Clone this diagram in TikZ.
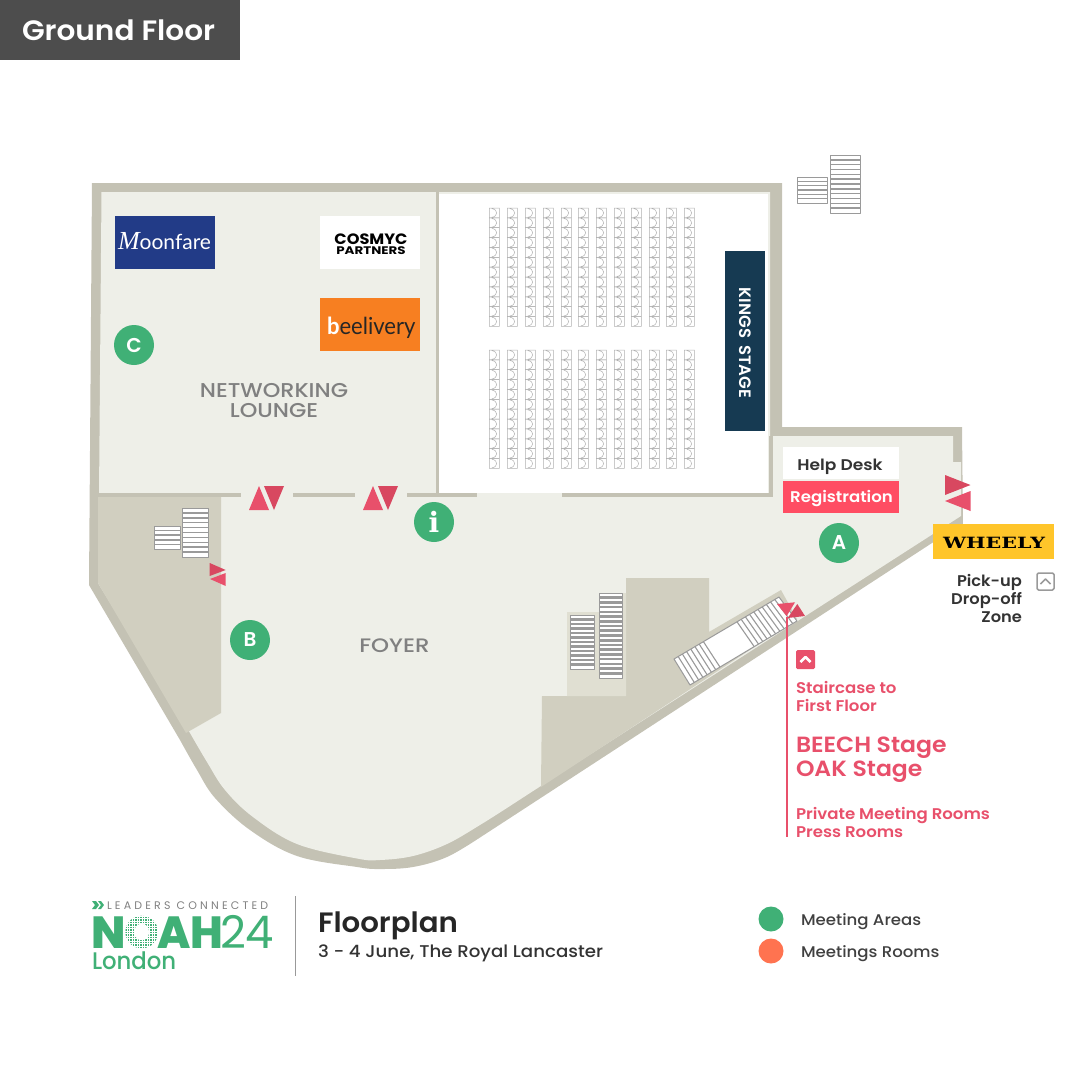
\documentclass[tikz,border=0pt]{standalone}
\usepackage{fontspec}
\setmainfont{Poppins}
\newfontfamily\medfont{Poppins Medium}
\newfontfamily\semifont{Poppins SemiBold}
\newfontfamily\heavyfont{Poppins ExtraBold}
\newfontfamily\slabfont{DejaVu Serif}
\newfontfamily\swashfont{Liberation Serif}
\newfontfamily\thinfont{Lato}
\usetikzlibrary{calc}
\definecolor{wallc}{HTML}{C4C2B4}
\definecolor{floorc}{HTML}{EEEFE8}
\definecolor{storec}{HTML}{D1CFC0}
\definecolor{patchc}{HTML}{E0DFD2}
\definecolor{redl}{HTML}{E8506B}
\definecolor{redd}{HTML}{D84860}
\definecolor{regc}{HTML}{FF4D63}
\definecolor{greenc}{HTML}{40B076}
\definecolor{stepc}{HTML}{9A9A9A}
\definecolor{chairc}{HTML}{B0B0B0}
\definecolor{kingsc}{HTML}{163A52}
\definecolor{logoblue}{HTML}{223B87}
\definecolor{logoorange}{HTML}{F77F21}
\definecolor{wheelyc}{HTML}{FFC52A}
\definecolor{bannerc}{HTML}{4D4D4D}
\definecolor{legred}{HTML}{FF7350}
\newcommand{\fs}[1]{\fontsize{#1}{#1}\selectfont}
% x y width height count linewidth
\newcommand{\stairblock}[6]{
  \draw[stepc,fill=white,line width=1pt] (#1,#2) rectangle ++(#3,#4);
  \foreach \r in {1,...,#5}
    \draw[stepc,line width=#6] (#1,{#2+\r*#4/(#5+1)}) -- ++(#3,0);
}
\begin{document}
\begin{tikzpicture}[x=1pt,y=-1pt,line join=round,
    lbl/.style={inner sep=0pt,outer sep=0pt,anchor=base west},
    lblr/.style={inner sep=0pt,outer sep=0pt,anchor=base east},
    lblc/.style={inner sep=0pt,outer sep=0pt,anchor=base},
    spot/.style={circle,fill=greenc,inner sep=0pt,minimum size=40pt,text=white,font=\semifont\fs{20}},
    wall/.style={wallc,line width=4pt},
    darktxt/.style={lblr,text=black!80,font=\semifont\fs{15.5},xscale=1.05},
    roomtxt/.style={lblc,text=gray,font=\medfont\fs{20},xscale=1.12},
    legtxt/.style={lbl,text=black!75,font=\medfont\fs{15.5},xscale=1.07},
    logotxt/.style={lbl,text=greenc,font=\heavyfont\fs{45}},
    redtxt/.style={lbl,text=redl,font=\semifont\fs{15.5},xscale=1.07},
    bigred/.style={redtxt,font=\semifont\fs{22},xscale=1}]
\useasboundingbox (0,0) rectangle (1080,1080);
% outer shell and floor
\fill[wallc] (92,183) -- (782,183) -- (782,427) -- (962,427) -- (963,525) -- (932,543) -- (510,818)
  -- plot[smooth,tension=.6] coordinates {(480,837.5) (447,857) (413,867) (380,869) (357,867) (297,856) (250,830) (215,798) (197,770) (180,740)}
  -- (89,585) -- cycle;
\fill[floorc] (101.5,192) -- (770,192) -- (770,436) -- (953,436) -- (953,462) -- (961,462) -- (961,516) -- (530,793)
  -- plot[smooth,tension=.6] coordinates {(510,806) (480,825) (447,844) (413,856) (380,860) (357,858.5) (297,844) (253,817) (225,790) (207,762) (190,733)}
  -- (98,583) -- (99,497) -- cycle;
% storage
\fill[storec] (98,497) -- (221,497) -- (221,713) -- (186,733) -- (98,583) -- cycle;
\fill[storec] (626,578) -- (709,578) -- (709,632) -- (781,590) -- (797,619) -- (541,787) -- (542,696) -- (626,696) -- cycle;
\fill[patchc] (567,696) -- (567,612) -- (599,612) -- (599,593) -- (626,593) -- (626,696) -- cycle;
% kings room
\fill[white] (439,194) rectangle (768,493);
\draw[wallc,line width=2.5pt] (437.5,192) -- (437.5,497);
\fill[wallc] (769,436) rectangle (773,497);
\draw[wall] (99,495) -- (241,495);
\draw[wall] (293,495) -- (355,495);
\draw[wall] (407,495) -- (477,495);
\draw[wall] (562,495) -- (773,495);
% seats
\foreach \yy in {208,350}
  \foreach \x in {489.3,507.3,525.3,543.3,561.3,578.3,596.3,614.3,631.3,649.3,666.3,684.3}
    \foreach \r in {0,...,11}
      \draw[chairc,line width=.5pt,shift={(\x,\yy+\r*9.87)}] (0,0) rectangle (10,9.87)
        (2.5,.6) .. controls (9,1.5) and (9,8.4) .. (2.5,9.3);
% stairs
\stairblock{182}{508}{26}{49}{9}{1.5pt}
\stairblock{154}{526}{26}{23}{4}{1.5pt}
\stairblock{830}{155}{30}{58}{11}{1.5pt}
\stairblock{797}{177}{30}{26}{5}{1.5pt}
\stairblock{599}{593}{23}{85}{17}{2.6pt}
\stairblock{570}{615}{24}{54}{11}{2.6pt}
\coordinate (SA) at (674,659);
\coordinate (SB) at (779,597);
\coordinate (SC) at (797,621);
\coordinate (SD) at (690,685);
\draw[stepc,fill=white,line width=1pt] (SA) -- (SB) -- (SC) -- (SD) -- cycle;
\foreach \t in {.04,.08,...,.29,.6,.64,...,.98}
  \draw[stepc,line width=1.1pt] ($(SA)!\t!(SB)$) -- ($(SD)!\t!(SC)$);
% stage
\node[fill=kingsc,minimum width=40pt,minimum height=180pt,inner sep=0pt,anchor=north west] (stagebox) at (725,251) {};
\node[rotate=-90,text=white,font=\semifont\fs{16.5}] (stagetxt) at (745,343) {KINGS\hspace{7pt}STAGE};
% doors
\foreach \d in {0,114} {
  \fill[redl,shift={(\d,0)}] (249,510) -- (269,510) -- (259,486) -- cycle;
  \fill[redd,shift={(\d,0)}] (264,486) -- (284,486) -- (274,510) -- cycle;
}
\fill[redd] (945,475) -- (945,495) -- (970.5,485) -- cycle;
\fill[redl] (970.5,491) -- (970.5,511) -- (945,501) -- cycle;
\fill[redd] (209.7,563) -- (209.7,576) -- (225.7,570) -- cycle;
\fill[redl] (225.7,573) -- (225.7,586) -- (210,579) -- cycle;
\fill[redl] (777,604) -- (795,602.3) -- (786.7,616) -- cycle;
\fill[redd] (787.7,618) -- (797.3,604) -- (805,616) -- cycle;
% logos
\fill[logoblue] (115,216) rectangle (215,269);
\node[lbl,text=white] (moon) at (118,249.5) {{\swashfont\itshape\fs{26}M}{\thinfont\fs{21}oonfare}};
\fill[white] (320,216) rectangle (420,269);
\node[lblc,font=\bfseries\fs{15},xscale=1.08] (cos1) at (371,244) {COSMYC};
\node[lblc,font=\bfseries\fs{11},xscale=1.22] (cos2) at (371,254.5) {PARTNERS};
\fill[logoorange] (320,298) rectangle (420,351);
\node[lbl,font=\thinfont\fs{23.5},text=black!85,xscale=.94] (bee) at (327,334) {{\bfseries\color{white}b}eelivery};
\node[roomtxt] (net1) at (274,397.5) {NETWORKING};
\node[roomtxt] (net2) at (274,417.5) {LOUNGE};
\node[roomtxt,font=\medfont\fs{19.5},xscale=1.05] (foyer) at (394.5,652) {FOYER};
\node[spot] (A) at (839,543) {A};
\node[spot] (B) at (250,640) {B};
\node[spot] (C) at (134,345) {C};
\node[spot,font=\slabfont\bfseries\fs{28}] (info) at (434,522) {i};
% desk
\fill[white] (783,447) rectangle (899,479);
\node[lblc,text=black!80,font=\semifont\fs{15.5},xscale=1.1] (help) at (840,470) {Help Desk};
\fill[regc] (783,481) rectangle (899,513);
\node[lblc,text=white,font=\semifont\fs{15.5},xscale=1.07] (reg) at (841.5,502) {Registration};
\fill[wheelyc] (933,524) rectangle (1054,559);
\node[lblc,font=\slabfont\bfseries\fs{15.5},xscale=1.33] (wheely) at (994,548) {WHEELY};
\node[darktxt] (pick) at (1022,586) {Pick-up};
\node[darktxt] (drop) at (1022,604) {Drop-off};
\node[darktxt] (zone) at (1022,622) {Zone};
\draw[stepc,line width=1.5pt,rounded corners=1.5pt] (1037,573) rectangle (1054,590);
\draw[stepc,line width=1.5pt] (1040.5,584) -- (1045.5,579) -- (1050.5,584);
% staircase note
\coordinate (lineA) at (786.5,617);
\coordinate (lineB) at (786.5,837);
\draw[redl,line width=2pt] (lineA) -- (lineB);
\fill[redl,rounded corners=1.5pt] (796,650) rectangle (815,669);
\draw[white,line width=2.5pt] (800.5,662) -- (805.5,657) -- (810.5,662);
\node[redtxt] (stair1) at (796,693) {Staircase to};
\node[redtxt] (stair2) at (796,711) {First Floor};
\node[bigred] (beech) at (796,752.5) {BEECH Stage};
\node[bigred] (oak) at (796,776.5) {OAK Stage};
\node[redtxt] (priv) at (796,819) {Private Meeting Rooms};
\node[redtxt] (press) at (796,837) {Press Rooms};
% banner
\fill[bannerc] (0,0) rectangle (240,60);
\node[lbl,text=white,font=\semifont\fs{28},xscale=1.055] (ground) at (22,40) {Ground Floor};
% footer
\fill[greenc] (92,901) -- (96,901) -- (99,905) -- (96,909) -- (92,909) -- (95,905) -- cycle;
\fill[greenc] (98,901) -- (101,901) -- (104,905) -- (101,909) -- (98,909) -- (101,905) -- cycle;
\node[lbl,text=gray,font=\fs{11}\addfontfeature{LetterSpace=29}] (leaders) at (107,909) {LEADERS CONNECTED};
\node[logotxt] (logoN) at (91,948) {N};
\node[logotxt] (logoO) at (124,948) {O};
\foreach \g in {127,129.5,...,158} \draw[white,line width=.6pt] (\g,914) -- (\g,950);
\foreach \g in {916,918.5,...,949} \draw[white,line width=.6pt] (125,\g) -- (160,\g);
\node[logotxt,xscale=.98] (logoAH) at (157,948) {AH};
\node[logotxt,font=\fs{45}] (logo24) at (220,948) {24};
\node[lbl,text=greenc,font=\medfont\fs{24},xscale=.95] (london) at (92,969) {London};
\coordinate (sepA) at (295,896);
\coordinate (sepB) at (295,976);
\draw[gray!80,line width=1pt] (sepA) -- (sepB);
\node[lbl,text=black!85,font=\semifont\fs{28},xscale=1.045] (floorplan) at (318,932.5) {Floorplan};
\node[lbl,text=black!80,font=\medfont\fs{17},xscale=1.07] (venue) at (318,957.5) {3 - 4 June, The Royal Lancaster};
\node[circle,fill=greenc,inner sep=0pt,minimum size=25pt] (legA) at (771,919) {};
\node[circle,fill=legred,inner sep=0pt,minimum size=25pt] (legB) at (771,951) {};
\node[legtxt] (legAt) at (801,925) {Meeting Areas};
\node[legtxt] (legBt) at (801,957) {Meetings Rooms};
\end{tikzpicture}
\end{document}
